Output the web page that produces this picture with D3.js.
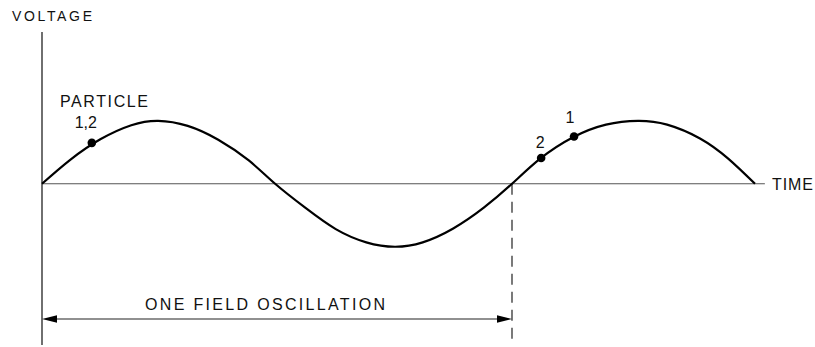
<!DOCTYPE html>
<html>
<head>
<meta charset="utf-8">
<script src="https://cdn.jsdelivr.net/npm/d3@7"></script>
<style>
  body { margin: 0; background: #fff; }
  svg { display: block; }
  text { font-family: "Liberation Sans", Arial, sans-serif; fill: #111; }
</style>
</head>
<body>
<div id="chart"></div>
<script>
// time in units of one field oscillation, voltage in units of peak amplitude
const timeVals = [0, 0.06, 0.125, 0.19, 0.247, 0.31, 0.375, 0.44, 0.496, 0.56, 0.625, 0.69, 0.751,
                  0.81, 0.875, 0.94, 1.0, 1.06, 1.13, 1.2, 1.268, 1.33, 1.4, 1.46, 1.517];
const voltVals = [0, 0.38, 0.71, 0.93, 1.0, 0.92, 0.70, 0.37, 0, -0.38, -0.72, -0.93, -1.0,
                  -0.93, -0.71, -0.38, 0, 0.40, 0.74, 0.94, 1.0, 0.94, 0.72, 0.40, 0];

const particleLabels = ["1,2", "2", "1"];
const particleTime = [0.106, 1.062, 1.132];
const particleVolt = [0.65, 0.41, 0.75];

const width = 815, height = 347;

const svg = d3.select("#chart")
  .append("svg")
    .attr("width", width)
    .attr("height", height);

const x = d3.scaleLinear()
  .domain([0, 1])
  .range([42, 512]);

const y = d3.scaleLinear()
  .domain([-2.56, 2.41])
  .range([345, 32]);

// voltage axis
svg.append("line")
  .attr("x1", x(0)).attr("x2", x(0))
  .attr("y1", y(2.41)).attr("y2", y(-2.56))
  .attr("stroke", "#222")
  .attr("stroke-width", 1.3);

svg.append("text")
  .attr("x", 12).attr("y", 21)
  .attr("font-size", 14)
  .attr("textLength", 80)
  .attr("lengthAdjust", "spacing")
  .text("VOLTAGE");

// time axis
svg.append("line")
  .attr("x1", x(0)).attr("x2", x(1.538))
  .attr("y1", y(0)).attr("y2", y(0))
  .attr("stroke", "#555")
  .attr("stroke-width", 1.1);

svg.append("text")
  .attr("x", 772).attr("y", y(0) + 6)
  .attr("font-size", 16)
  .attr("textLength", 41)
  .attr("lengthAdjust", "spacing")
  .text("TIME");

// dashed marker at end of one oscillation
svg.append("line")
  .attr("x1", x(1)).attr("x2", x(1))
  .attr("y1", y(0)).attr("y2", y(-2.56))
  .attr("stroke", "#222")
  .attr("stroke-width", 1.2)
  .attr("stroke-dasharray", "11,7");

// the wave
const pts = timeVals.map((t, i) => [t, voltVals[i]]);
const line = d3.line()
  .x(d => x(d[0]))
  .y(d => y(d[1]))
  .curve(d3.curveNatural);

svg.append("path")
  .datum(pts)
  .attr("d", line)
  .attr("fill", "none")
  .attr("stroke", "#000")
  .attr("stroke-width", 2.2);

// particles
const particles = particleLabels.map((l, i) => ({label: l, t: particleTime[i], v: particleVolt[i]}));

svg.selectAll("circle.particle")
  .data(particles)
  .join("circle")
    .attr("class", "particle")
    .attr("cx", d => x(d.t))
    .attr("cy", d => y(d.v))
    .attr("r", 4.3)
    .attr("fill", "#000");

// labels near the dots
const labelOffsets = [[-6, -15], [-1, -10], [-4, -14]];
svg.selectAll("text.plabel")
  .data(particles)
  .join("text")
    .attr("class", "plabel")
    .attr("x", (d, i) => x(d.t) + labelOffsets[i][0])
    .attr("y", (d, i) => y(d.v) + labelOffsets[i][1])
    .attr("font-size", 16)
    .attr("text-anchor", "middle")
    .text(d => d.label);

svg.append("text")
  .attr("x", 60).attr("y", 107)
  .attr("font-size", 16)
  .attr("textLength", 88)
  .attr("lengthAdjust", "spacing")
  .text("PARTICLE");

// one field oscillation span arrow
const arrowY = 319;
svg.append("line")
  .attr("x1", x(0) + 10).attr("x2", x(1) - 10)
  .attr("y1", arrowY).attr("y2", arrowY)
  .attr("stroke", "#222")
  .attr("stroke-width", 1.1);

const head = 15, hw = 3.8;
svg.append("path")
  .attr("d", `M${x(0)},${arrowY} L${x(0) + head},${arrowY - hw} L${x(0) + head},${arrowY + hw} Z`)
  .attr("fill", "#000");
svg.append("path")
  .attr("d", `M${x(1)},${arrowY} L${x(1) - head},${arrowY - hw} L${x(1) - head},${arrowY + hw} Z`)
  .attr("fill", "#000");

svg.append("text")
  .attr("x", 145).attr("y", 310)
  .attr("font-size", 16)
  .attr("textLength", 240)
  .attr("lengthAdjust", "spacing")
  .text("ONE FIELD OSCILLATION");
</script>
</body>
</html>
